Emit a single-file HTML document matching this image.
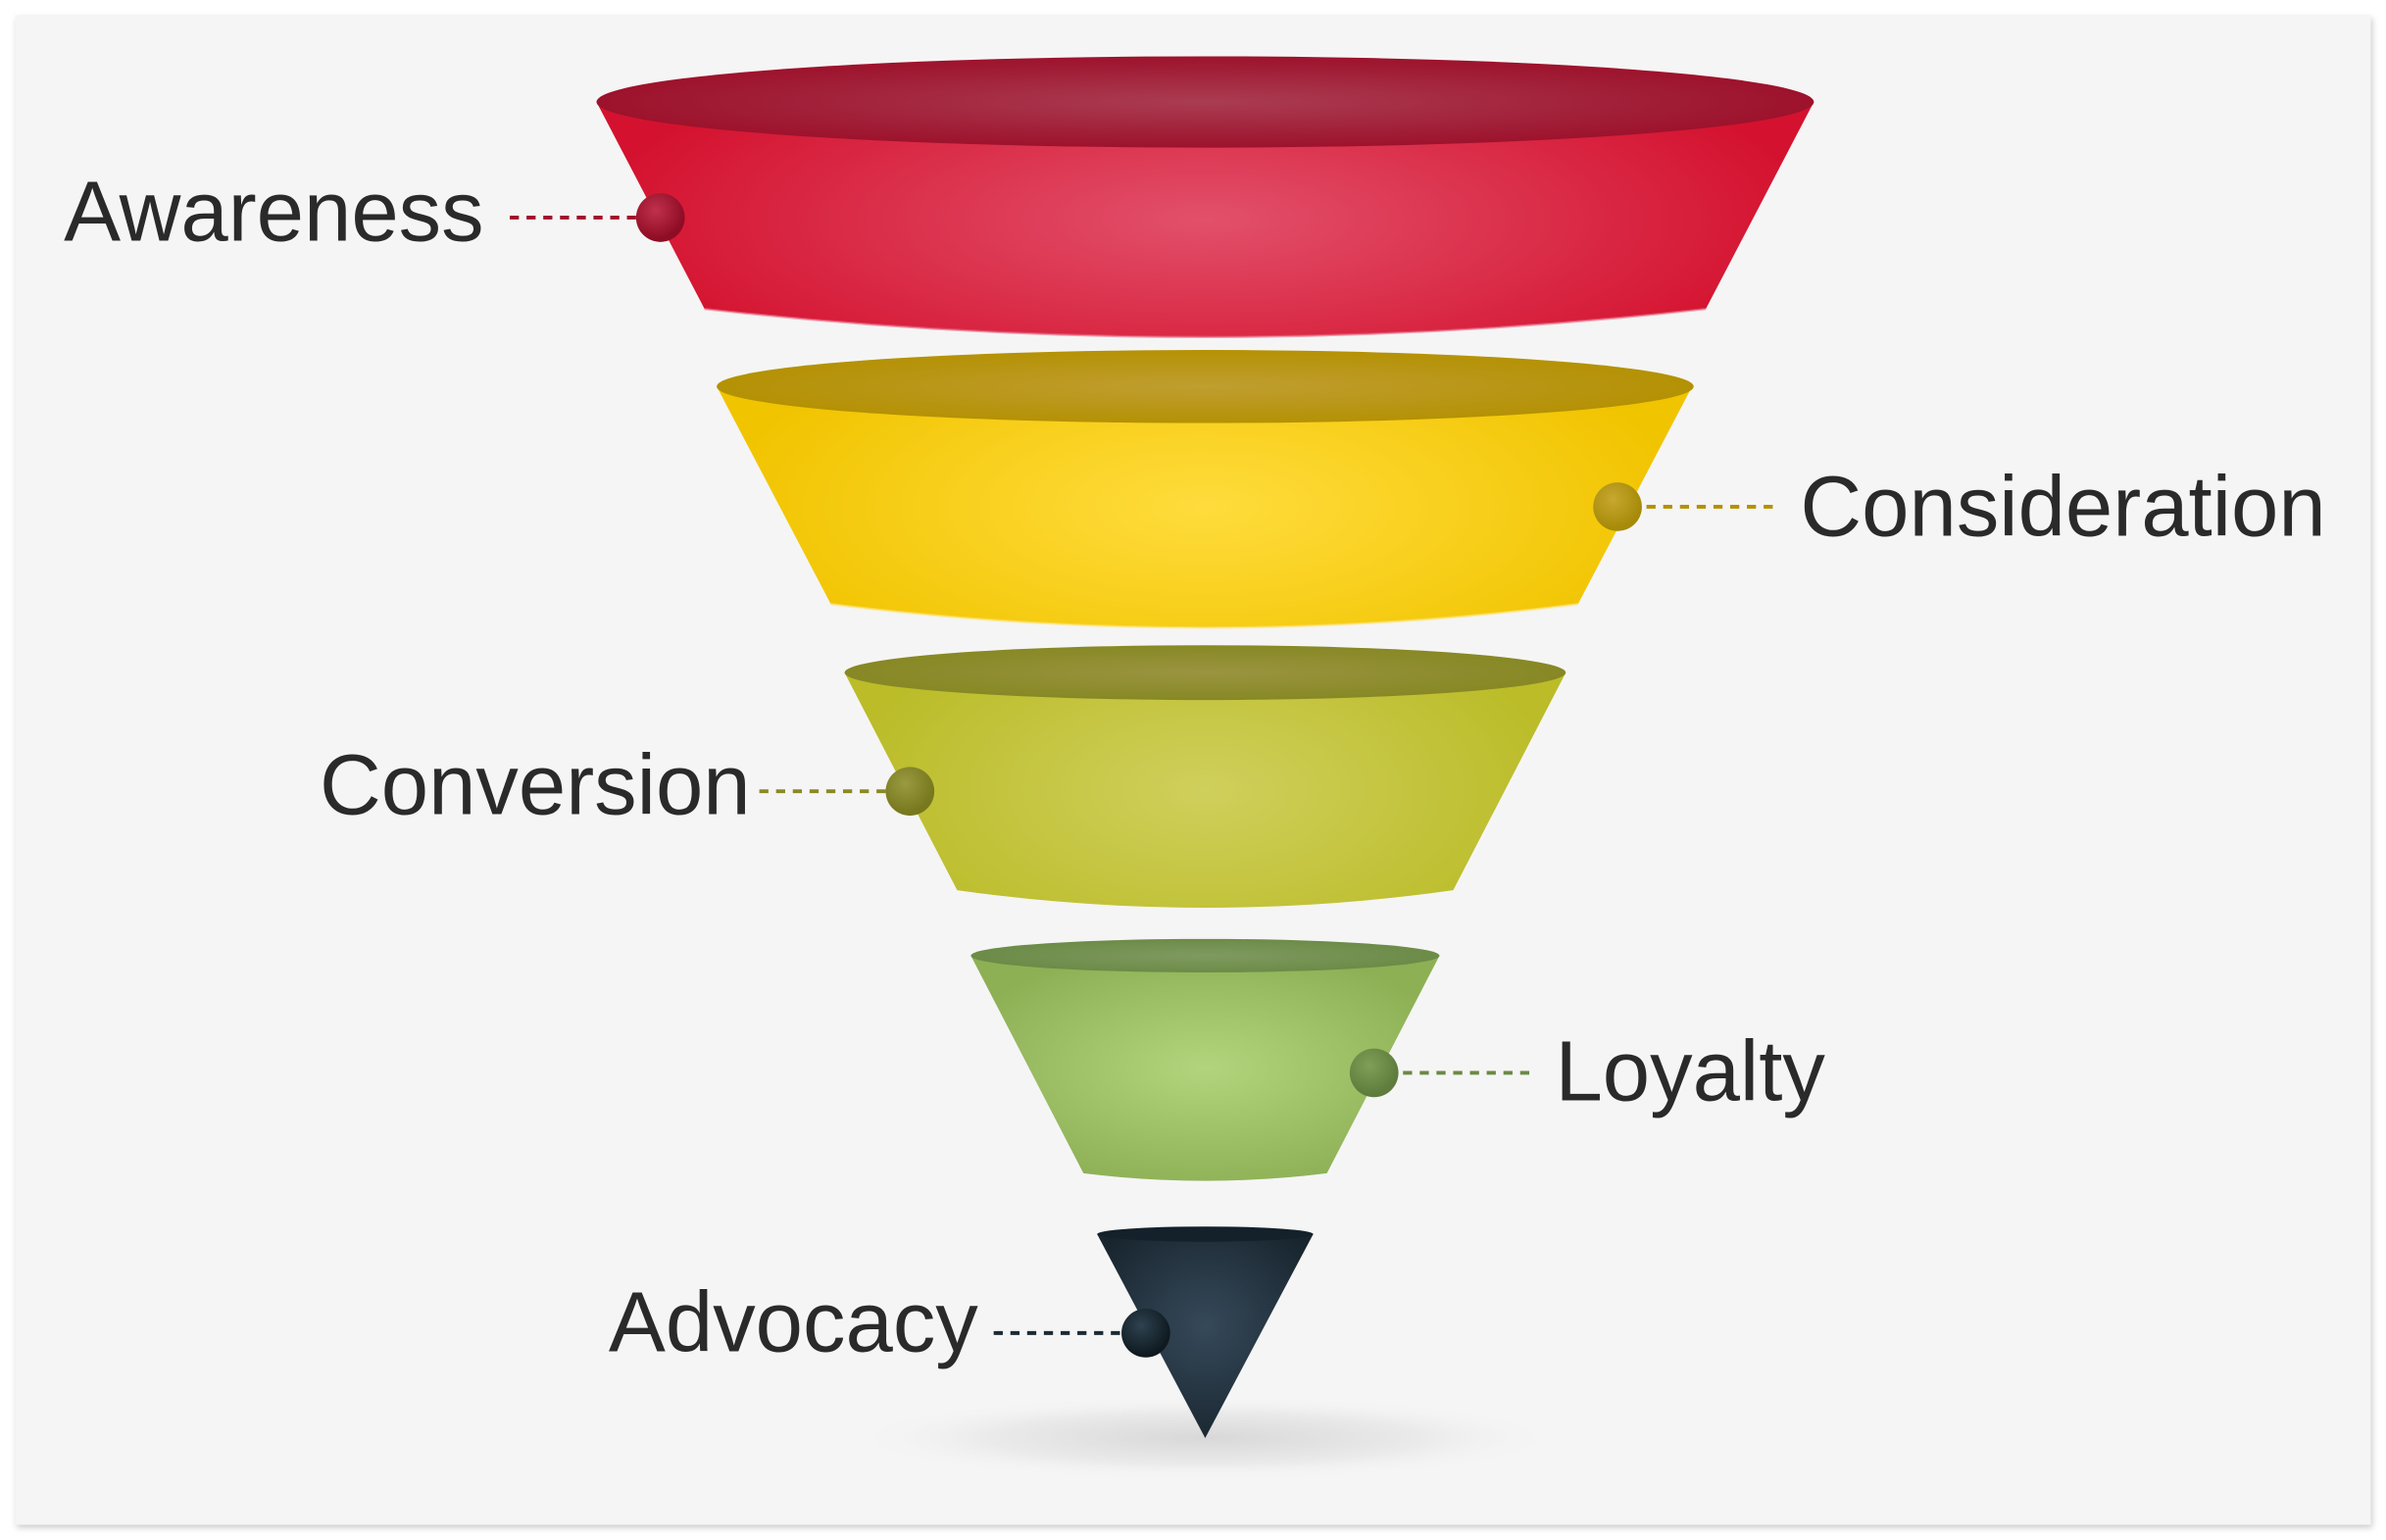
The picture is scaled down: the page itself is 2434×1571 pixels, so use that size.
<!DOCTYPE html>
<html><head><meta charset="utf-8"><style>
html,body{margin:0;padding:0;background:#fff;}
svg{display:block;}
text{font-family:"Liberation Sans",Arial,sans-serif;fill:#2a2a2a;}
</style></head><body>
<svg width="2434" height="1571" viewBox="0 0 1568 1012" preserveAspectRatio="none" xmlns="http://www.w3.org/2000/svg">
<defs>
<filter id="sh" x="-5%" y="-5%" width="110%" height="110%"><feGaussianBlur stdDeviation="2"/></filter>
<radialGradient id="gr" cx="0.5" cy="0.5" r="0.5" gradientTransform="translate(0.5,0.5) scale(1,1.6) translate(-0.5,-0.5)"><stop offset="0" stop-color="#e2506a"/><stop offset="1" stop-color="#d4122f"/></radialGradient>
<radialGradient id="grt" cx="0.5" cy="0.5" r="0.55"><stop offset="0" stop-color="#aa3c52"/><stop offset="1" stop-color="#9c0e28"/></radialGradient>
<radialGradient id="gy" cx="0.5" cy="0.5" r="0.5" gradientTransform="translate(0.5,0.5) scale(1,1.6) translate(-0.5,-0.5)"><stop offset="0" stop-color="#ffdc3c"/><stop offset="1" stop-color="#f1c400"/></radialGradient>
<radialGradient id="gyt" cx="0.5" cy="0.5" r="0.55"><stop offset="0" stop-color="#c09e30"/><stop offset="1" stop-color="#b39000"/></radialGradient>
<radialGradient id="go" cx="0.5" cy="0.5" r="0.5" gradientTransform="translate(0.5,0.5) scale(1,1.6) translate(-0.5,-0.5)"><stop offset="0" stop-color="#cfcf5c"/><stop offset="1" stop-color="#bbbc28"/></radialGradient>
<radialGradient id="got" cx="0.5" cy="0.5" r="0.55"><stop offset="0" stop-color="#9a9440"/><stop offset="1" stop-color="#858722"/></radialGradient>
<radialGradient id="gg" cx="0.5" cy="0.5" r="0.55"><stop offset="0" stop-color="#b2d47c"/><stop offset="1" stop-color="#8db055"/></radialGradient>
<radialGradient id="ggt" cx="0.5" cy="0.5" r="0.55"><stop offset="0" stop-color="#7f9a60"/><stop offset="1" stop-color="#6a8a45"/></radialGradient>
<radialGradient id="gd" cx="0.5" cy="0.45" r="0.6"><stop offset="0" stop-color="#36495a"/><stop offset="1" stop-color="#18252e"/></radialGradient>
<radialGradient id="gs" cx="0.5" cy="0.5" r="0.5"><stop offset="0" stop-color="#d8d8d8"/><stop offset="0.6" stop-color="#eaeaea"/><stop offset="1" stop-color="#f5f5f5" stop-opacity="0"/></radialGradient>
<radialGradient id="d1" cx="0.4" cy="0.35" r="0.6"><stop offset="0" stop-color="#c0304c"/><stop offset="1" stop-color="#8e0c24"/></radialGradient>
<radialGradient id="d2" cx="0.4" cy="0.35" r="0.6"><stop offset="0" stop-color="#c8a830"/><stop offset="1" stop-color="#a68a08"/></radialGradient>
<radialGradient id="d3" cx="0.4" cy="0.35" r="0.6"><stop offset="0" stop-color="#9a9a40"/><stop offset="1" stop-color="#77781e"/></radialGradient>
<radialGradient id="d4" cx="0.4" cy="0.35" r="0.6"><stop offset="0" stop-color="#80a058"/><stop offset="1" stop-color="#5e7c3c"/></radialGradient>
<radialGradient id="d5" cx="0.4" cy="0.35" r="0.6"><stop offset="0" stop-color="#2e4250"/><stop offset="1" stop-color="#0f1a20"/></radialGradient>
</defs>
<rect x="11" y="12" width="1548" height="992" fill="#ccc" filter="url(#sh)"/>
<rect x="10" y="10" width="1548" height="992" fill="#f5f5f5"/>
<ellipse cx="792" cy="945" rx="235" ry="28" fill="url(#gs)"/>
<path d="M392 67 L463 203 Q792 240 1121 203 L1192 67 Z" fill="url(#gr)"/>
<path d="M463 203 Q792 240 1121 203" fill="none" stroke="#e8708a" stroke-width="1.5" opacity="0.6"/>
<ellipse cx="792" cy="67" rx="400" ry="30" fill="url(#grt)"/>
<path d="M471 254 L546 397 Q792 428 1037 397 L1112 254 Z" fill="url(#gy)"/>
<path d="M546 397 Q792 428 1037 397" fill="none" stroke="#ffe680" stroke-width="1.5" opacity="0.6"/>
<ellipse cx="792" cy="254" rx="321" ry="24" fill="url(#gyt)"/>
<path d="M555 442 L629 585 Q792 608 955 585 L1029 442 Z" fill="url(#go)"/>
<ellipse cx="792" cy="442" rx="237" ry="18" fill="url(#got)"/>
<path d="M638 628 L712 771 Q792 781 872 771 L946 628 Z" fill="url(#gg)"/>
<ellipse cx="792" cy="628" rx="154" ry="11" fill="url(#ggt)"/>
<path d="M721 811 L792 945 L863 811 Z" fill="url(#gd)"/>
<ellipse cx="792" cy="811" rx="71" ry="5" fill="#14212a"/>
<g stroke-width="2.5" stroke-dasharray="6,5">
<line x1="335" y1="143" x2="420" y2="143" stroke="#a0102a"/>
<line x1="1082" y1="333" x2="1165" y2="333" stroke="#b39000"/>
<line x1="499" y1="520" x2="585" y2="520" stroke="#8a8a25"/>
<line x1="922" y1="705" x2="1005" y2="705" stroke="#6a8a45"/>
<line x1="653" y1="876" x2="738" y2="876" stroke="#1b2a33"/>
</g>
<circle cx="434" cy="143" r="16" fill="url(#d1)"/>
<circle cx="1063" cy="333" r="16" fill="url(#d2)"/>
<circle cx="598" cy="520" r="16" fill="url(#d3)"/>
<circle cx="903" cy="705" r="16" fill="url(#d4)"/>
<circle cx="753" cy="876" r="16" fill="url(#d5)"/>
<g font-size="56">
<text x="42" y="158">Awareness</text>
<text x="1183" y="352">Consideration</text>
<text x="210" y="535">Conversion</text>
<text x="1022" y="723">Loyalty</text>
<text x="400" y="888">Advocacy</text>
</g>
</svg>
</body></html>
